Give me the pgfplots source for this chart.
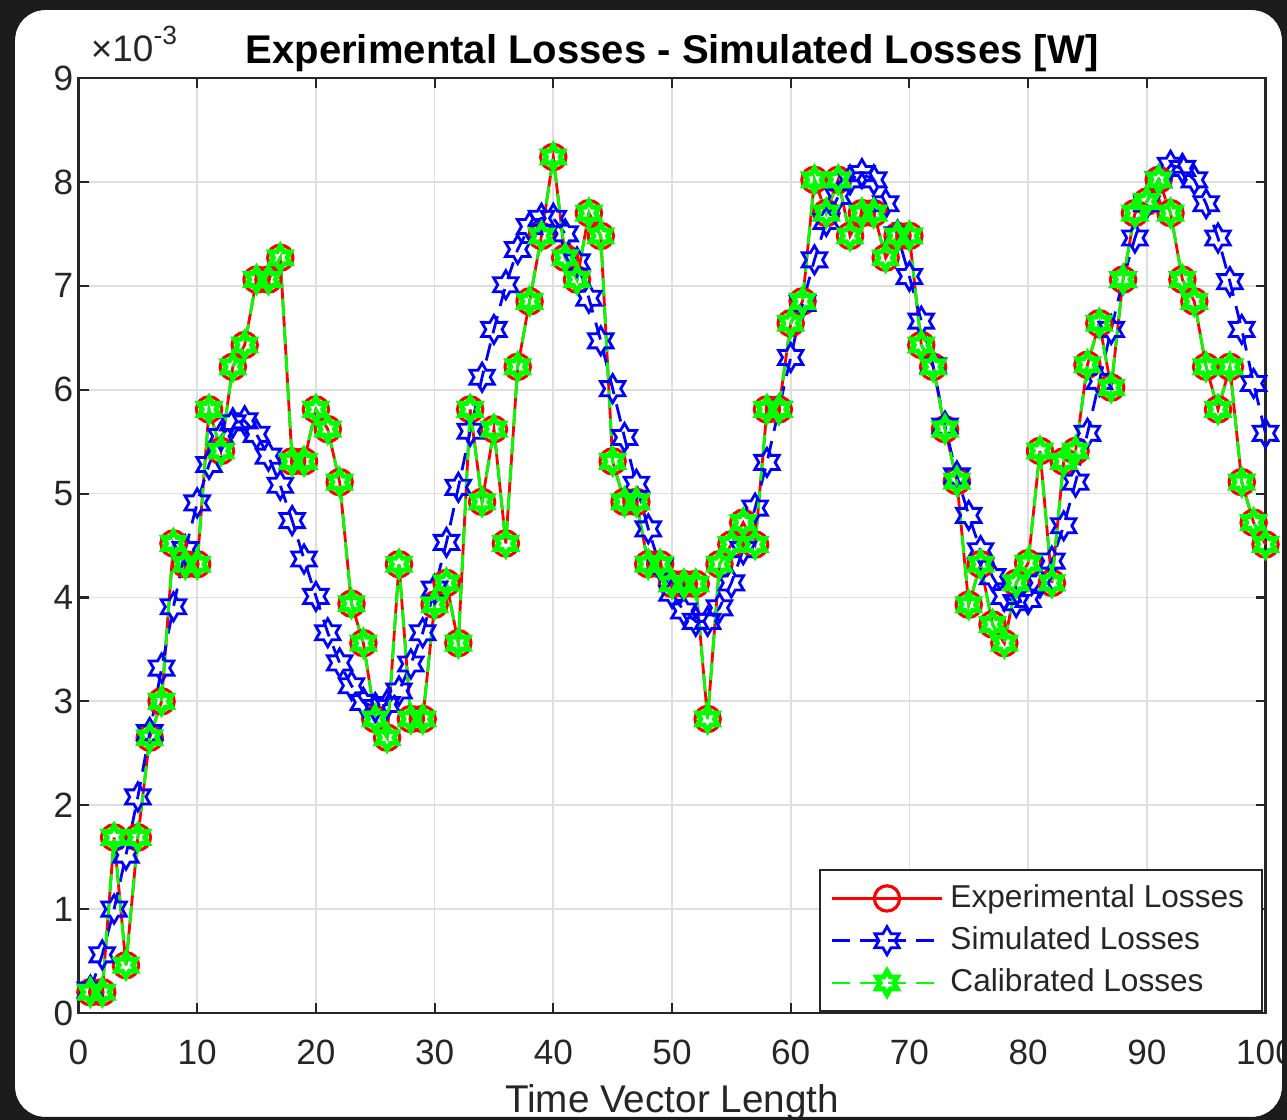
\documentclass[border=0pt]{standalone}
\usepackage{pgfplots}
\pgfplotsset{compat=1.18}
\usepackage{pgfplotstable}
\usepackage{fontspec}
\setmainfont{Liberation Sans}
\definecolor{darkbg}{RGB}{28,28,28}
\definecolor{axgray}{RGB}{38,38,38}
\definecolor{gridgray}{RGB}{223,223,223}
\definecolor{mred}{RGB}{255,0,0}
\definecolor{mblue}{RGB}{0,0,255}
\definecolor{mgreen}{RGB}{0,255,0}

\pgfdeclareplotmark{hexagram}{%
  \pgfpathmoveto{\pgfpointpolar{90}{\pgfplotmarksize}}%
  \pgfpathlineto{\pgfpointpolar{120}{0.577\pgfplotmarksize}}%
  \pgfpathlineto{\pgfpointpolar{150}{\pgfplotmarksize}}%
  \pgfpathlineto{\pgfpointpolar{180}{0.577\pgfplotmarksize}}%
  \pgfpathlineto{\pgfpointpolar{210}{\pgfplotmarksize}}%
  \pgfpathlineto{\pgfpointpolar{240}{0.577\pgfplotmarksize}}%
  \pgfpathlineto{\pgfpointpolar{270}{\pgfplotmarksize}}%
  \pgfpathlineto{\pgfpointpolar{300}{0.577\pgfplotmarksize}}%
  \pgfpathlineto{\pgfpointpolar{330}{\pgfplotmarksize}}%
  \pgfpathlineto{\pgfpointpolar{0}{0.577\pgfplotmarksize}}%
  \pgfpathlineto{\pgfpointpolar{30}{\pgfplotmarksize}}%
  \pgfpathlineto{\pgfpointpolar{60}{0.577\pgfplotmarksize}}%
  \pgfpathclose
  \pgfusepathqstroke
}

% values in units of 1e-3 W
\pgfplotstableread{
x exp sim
1 0.20 0.22
2 0.20 0.56
3 1.69 1.00
4 0.46 1.52
5 1.69 2.08
6 2.65 2.70
7 3.00 3.32
8 4.52 3.91
9 4.32 4.46
10 4.32 4.91
11 5.81 5.28
12 5.41 5.55
13 6.22 5.68
14 6.43 5.70
15 7.06 5.57
16 7.06 5.36
17 7.27 5.08
18 5.31 4.74
19 5.31 4.37
20 5.81 4.01
21 5.62 3.66
22 5.11 3.37
23 3.94 3.15
24 3.56 2.99
25 2.83 2.94
26 2.65 2.97
27 4.32 3.10
28 2.83 3.36
29 2.83 3.66
30 3.93 4.08
31 4.14 4.53
32 3.56 5.06
33 5.81 5.60
34 4.92 6.12
35 5.62 6.58
36 4.52 7.01
37 6.22 7.35
38 6.85 7.57
39 7.48 7.65
40 8.24 7.65
41 7.27 7.50
42 7.06 7.23
43 7.70 6.88
44 7.48 6.47
45 5.31 6.01
46 4.92 5.54
47 4.92 5.09
48 4.32 4.66
49 4.32 4.30
50 4.13 4.04
51 4.13 3.87
52 4.13 3.77
53 2.83 3.77
54 4.32 3.90
55 4.51 4.14
56 4.72 4.46
57 4.51 4.86
58 5.81 5.30
59 5.81 5.81
60 6.64 6.31
61 6.85 6.83
62 8.02 7.25
63 7.70 7.62
64 8.02 7.86
65 7.48 8.02
66 7.70 8.08
67 7.70 8.02
68 7.27 7.79
69 7.48 7.49
70 7.48 7.09
71 6.43 6.66
72 6.22 6.23
73 5.62 5.65
74 5.12 5.17
75 3.93 4.79
76 4.32 4.45
77 3.74 4.20
78 3.56 4.01
79 4.14 3.95
80 4.33 3.98
81 5.41 4.14
82 4.14 4.35
83 5.31 4.69
84 5.41 5.11
85 6.24 5.58
86 6.64 6.08
87 6.02 6.58
88 7.06 7.06
89 7.70 7.46
90 7.81 7.79
91 8.02 8.02
92 7.70 8.16
93 7.06 8.13
94 6.85 8.02
95 6.22 7.79
96 5.81 7.46
97 6.22 7.04
98 5.11 6.58
99 4.72 6.06
100 4.51 5.58
}\losses

\begin{document}
\begin{tikzpicture}
\useasboundingbox (0,0) rectangle (12.87,11.2);
\fill[darkbg] (0,0) rectangle (12.87,11.2);
\fill[white, rounded corners=0.3cm] (0.15,0.03) rectangle (12.82,11.10);
\begin{axis}[
  at={(0.785cm,1.07cm)}, anchor=south west,
  width=11.87cm, height=9.35cm, scale only axis,
  xmin=0, xmax=100, ymin=0, ymax=9,
  clip=false,
  xtick={0,10,...,100}, ytick={0,1,...,9},
  grid=major, major grid style={gridgray, line width=0.5pt},
  axis line style={axgray, line width=0.6pt},
  tick style={axgray, line width=0.6pt}, tick align=inside, major tick length=0.1cm,
  ticklabel style={font=\fontsize{10}{12}\selectfont, text=axgray},
  yticklabel style={xshift=0.07cm},
  xticklabel style={yshift=-0.15cm},
  /pgf/number format/assume math mode=true,
  title={Experimental Losses - Simulated Losses [W]},
  title style={font=\bfseries\fontsize{11.4}{13}\selectfont, at={(0.5,1)}, anchor=base, yshift=-0.07cm},
  xlabel={Time Vector Length},
  xlabel style={font=\fontsize{11}{13}\selectfont, text=axgray, at={(0.5,0)}, anchor=base, yshift=-1.0cm},
  legend cell align=left,
  legend style={at={(1,0)}, anchor=south east, xshift=-0.03cm, yshift=0.01cm,
    draw=axgray, line width=0.5pt, fill=white, text=axgray,
    font=\fontsize{9}{11}\selectfont, nodes={inner ysep=2pt},
    /tikz/every even column/.append style={column sep=0.06cm}},
  legend image code/.code={\draw[mark repeat=2,mark phase=2,#1] plot coordinates {(0cm,0cm) (0.55cm,0cm) (1.1cm,0cm)};},
]
\addplot[mred, line width=0.8pt, mark=o, mark size=3.6pt, mark options={solid, line width=0.9pt}] table[x=x,y=exp]{\losses};
\addplot[mblue, line width=0.8pt, dash pattern=on 5pt off 3pt, mark=hexagram, mark size=4pt, mark options={solid, line width=0.8pt}] table[x=x,y=sim]{\losses};
\addplot[mgreen, line width=0.8pt, dash pattern=on 5pt off 3pt, mark=hexagram, mark size=3.4pt, mark options={solid, line width=1.4pt}] table[x=x,y=exp]{\losses};
\legend{Experimental Losses, Simulated Losses, Calibrated Losses}
\node[anchor=base west, font=\fontsize{10.5}{12}\selectfont, text=axgray, xshift=0.0cm, yshift=0.17cm] at (rel axis cs:0,1) {×10\raisebox{0.45em}{\fontsize{7.5}{8}\selectfont -3}};
\end{axis}
\fill[darkbg, even odd rule] (0,0) rectangle (12.87,11.2) [rounded corners=0.3cm] (0.15,0.03) rectangle (12.82,11.10);
\end{tikzpicture}
\end{document}
